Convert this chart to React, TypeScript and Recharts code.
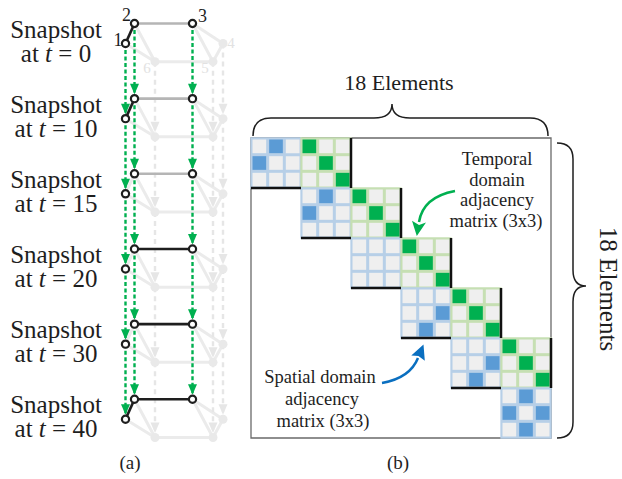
import React from "react";
import { ComposedChart, Line, Scatter, XAxis, YAxis, ReferenceArea, ReferenceLine } from "recharts";

// snapshots of the road graph
const SNAPSHOT_TIMES = [0, 10, 15, 20, 30, 40];
// spatial links between tracked nodes at each snapshot (1 = connected)
const EDGE_1_2 = [1, 1, 0, 0, 0, 1];
const EDGE_2_3 = [0, 0, 0, 1, 1, 1];

// graph layout: x in chart units, dy = vertical offset inside a snapshot
const NODE_IDS = [1, 2, 3, 4, 5, 6];
const NODE_X = [25.5, 34.5, 92.5, 123, 113, 55];
const NODE_DY = [0.266, 0, 0, 0.266, 0.508, 0.508];
const TRACKED_NODES = [1, 2, 3];
const FADED_NODES = [4, 5, 6];
const BACKGROUND_EDGES: [number, number][] = [[1, 2], [1, 6], [2, 6], [6, 5], [3, 5], [3, 4], [4, 5]];

const NODES_PER_SNAPSHOT = 3;
const MATRIX_SIZE = SNAPSHOT_TIMES.length * NODES_PER_SNAPSHOT; // 18

const FONT = "'Liberation Serif', 'Times New Roman', serif";
const GREEN = "#00b050";
const BLUE = "#5b9bd5";
const FADED = "#ebebeb";
const INK = "#1e1e1e";

const LABEL_OFFSET: Record<number, [number, number]> = {
  1: [-7.5, 3], 2: [-8, -2.5], 3: [10, -1.5], 4: [8, 4.5], 5: [-8, 11], 6: [-8, 11],
};

const nodePos = (id: number, snap: number) => ({
  x: NODE_X[id - 1],
  y: snap + NODE_DY[id - 1],
  id,
  snap,
});

type Seg = { key: string; a: { x: number; y: number }; b: { x: number; y: number }; stroke: string; width: number; dash?: string };

function buildSegments() {
  const faded: Seg[] = [];
  const offEdges: Seg[] = [];
  const onEdges: Seg[] = [];
  const fadedArrows: Seg[] = [];
  const greenArrows: Seg[] = [];
  SNAPSHOT_TIMES.forEach((_, s) => {
    BACKGROUND_EDGES.forEach(([u, v]) => {
      faded.push({ key: `bg-${s}-${u}-${v}`, a: nodePos(u, s), b: nodePos(v, s), stroke: FADED, width: 3 });
    });
    if (EDGE_1_2[s]) onEdges.push({ key: `e12-${s}`, a: nodePos(1, s), b: nodePos(2, s), stroke: INK, width: 2.6 });
    if (EDGE_2_3[s]) onEdges.push({ key: `e23-${s}`, a: nodePos(2, s), b: nodePos(3, s), stroke: INK, width: 2.6 });
    else offEdges.push({ key: `o23-${s}`, a: nodePos(2, s), b: nodePos(3, s), stroke: "#b5b5b5", width: 2.6 });
    if (s < SNAPSHOT_TIMES.length - 1) {
      FADED_NODES.forEach((id) =>
        fadedArrows.push({ key: `fa-${s}-${id}`, a: nodePos(id, s), b: nodePos(id, s + 1), stroke: "#e6e6e6", width: 2.4, dash: "5 4" })
      );
      TRACKED_NODES.forEach((id) =>
        greenArrows.push({ key: `ga-${s}-${id}`, a: nodePos(id, s), b: nodePos(id, s + 1), stroke: GREEN, width: 2.4, dash: "4 2.5" })
      );
    }
  });
  return { faded, offEdges, onEdges, fadedArrows, greenArrows };
}

const renderSeg = (g: Seg) => (
  <Line
    key={g.key}
    data={[g.a, g.b]}
    dataKey="y"
    type="linear"
    stroke={g.stroke}
    strokeWidth={g.width}
    strokeDasharray={g.dash}
    dot={false}
    activeDot={false}
    legendType="none"
    isAnimationActive={false}
  />
);

const arrowHead = (fill: string) => (p: any) => {
  const { cx, cy } = p;
  return <polygon points={`${cx - 4.5},${cy - 15} ${cx + 4.5},${cy - 15} ${cx},${cy - 4.5}`} fill={fill} />;
};

function GraphPanel() {
  const { faded, offEdges, onEdges, fadedArrows, greenArrows } = buildSegments();
  const later = SNAPSHOT_TIMES.slice(1).map((_, i) => i + 1);
  const fadedHeads = later.flatMap((s) => FADED_NODES.map((id) => nodePos(id, s)));
  const greenHeads = later.flatMap((s) => TRACKED_NODES.map((id) => nodePos(id, s)));
  const fadedNodes = SNAPSHOT_TIMES.flatMap((_, s) => FADED_NODES.map((id) => nodePos(id, s)));
  const trackedNodes = SNAPSHOT_TIMES.flatMap((_, s) => TRACKED_NODES.map((id) => nodePos(id, s)));
  const labels = NODE_IDS.map((id) => nodePos(id, 0));
  const top = -23.5 / 75.16;
  const bottom = (479 - 23.5) / 75.16;

  return (
    <ComposedChart width={140} height={479} margin={{ top: 0, right: 0, bottom: 0, left: 0 }}>
      <XAxis type="number" dataKey="x" domain={[0, 140]} hide allowDataOverflow />
      <YAxis type="number" dataKey="y" domain={[top, bottom]} reversed hide allowDataOverflow />
      {faded.map(renderSeg)}
      {fadedArrows.map(renderSeg)}
      <Scatter data={fadedHeads} shape={arrowHead("#e6e6e6")} isAnimationActive={false} />
      <Scatter
        data={fadedNodes}
        shape={(p: any) => <circle cx={p.cx} cy={p.cy} r={4.5} fill="#e9e9e9" />}
        isAnimationActive={false}
      />
      {offEdges.map(renderSeg)}
      {greenArrows.map(renderSeg)}
      <Scatter data={greenHeads} shape={arrowHead(GREEN)} isAnimationActive={false} />
      {onEdges.map(renderSeg)}
      <Scatter
        data={trackedNodes}
        shape={(p: any) => <circle cx={p.cx} cy={p.cy} r={3.6} fill="#fff" stroke={INK} strokeWidth={2.2} />}
        isAnimationActive={false}
      />
      <Scatter
        data={labels}
        shape={(p: any) => {
          const id = p.payload.id;
          const [dx, dy] = LABEL_OFFSET[id];
          const tracked = TRACKED_NODES.includes(id);
          return (
            <text
              x={p.cx + dx}
              y={p.cy + dy}
              textAnchor="middle"
              style={{ fontFamily: FONT, fontSize: tracked ? 18 : 15 }}
              fill={tracked ? INK : "#e2e2e2"}
            >
              {id}
            </text>
          );
        }}
        isAnimationActive={false}
      />
    </ComposedChart>
  );
}

type Cell = { row: number; col: number; on: boolean; kind: "spatial" | "temporal" };

function spatialBlock(s: number): number[][] {
  const a = EDGE_1_2[s];
  const b = EDGE_2_3[s];
  return [
    [0, a, 0],
    [a, 0, b],
    [0, b, 0],
  ];
}

function buildBlocks() {
  const blocks: { r: number; c: number; kind: "spatial" | "temporal" }[] = [];
  const cells: Cell[] = [];
  SNAPSHOT_TIMES.forEach((_, s) => {
    const adj = spatialBlock(s);
    blocks.push({ r: s, c: s, kind: "spatial" });
    for (let i = 0; i < 3; i++)
      for (let j = 0; j < 3; j++)
        cells.push({ row: s * 3 + i, col: s * 3 + j, on: adj[i][j] === 1, kind: "spatial" });
    if (s < SNAPSHOT_TIMES.length - 1) {
      blocks.push({ r: s, c: s + 1, kind: "temporal" });
      for (let i = 0; i < 3; i++)
        for (let j = 0; j < 3; j++)
          cells.push({ row: s * 3 + i, col: (s + 1) * 3 + j, on: i === j, kind: "temporal" });
    }
  });
  return { blocks, cells };
}

function MatrixPanel() {
  const { blocks, cells } = buildBlocks();
  const gap = 0.09;
  const edge = 0.04;
  const n = SNAPSHOT_TIMES.length;
  return (
    <ComposedChart width={320} height={320} margin={{ top: 10, right: 10, bottom: 10, left: 10 }} data={cells}>
      <XAxis type="number" dataKey="col" domain={[0, MATRIX_SIZE]} hide />
      <YAxis type="number" dataKey="row" domain={[0, MATRIX_SIZE]} reversed hide />
      <ReferenceArea x1={0} x2={MATRIX_SIZE} y1={0} y2={MATRIX_SIZE} fill="#fff" fillOpacity={1} stroke="#6a6a6a" strokeWidth={1.3} />
      {blocks.map((b) => (
        <ReferenceArea
          key={`blk-${b.r}-${b.c}`}
          x1={b.c * 3 - edge}
          x2={b.c * 3 + 3 + edge}
          y1={b.r * 3 - edge}
          y2={b.r * 3 + 3 + edge}
          fill={b.kind === "spatial" ? "#b7cfe7" : "#c6dfb3"}
          fillOpacity={1}
          ifOverflow="visible"
        />
      ))}
      {cells.map((c) => (
        <ReferenceArea
          key={`cell-${c.row}-${c.col}`}
          x1={c.col + gap}
          x2={c.col + 1 - gap}
          y1={c.row + gap}
          y2={c.row + 1 - gap}
          fill={c.on ? (c.kind === "spatial" ? BLUE : GREEN) : "#efefef"}
          fillOpacity={1}
          ifOverflow="visible"
        />
      ))}
      {Array.from({ length: n - 1 }, (_, s) => (
        <ReferenceLine
          key={`sb-${s}`}
          segment={[{ x: s * 3, y: s * 3 + 3 }, { x: s * 3 + 3, y: s * 3 + 3 }]}
          stroke="#111"
          strokeWidth={2.5}
          ifOverflow="visible"
        />
      ))}
      {Array.from({ length: n - 1 }, (_, s) => (
        <ReferenceLine
          key={`sr-${s}`}
          segment={[{ x: s * 3 + 6, y: s * 3 }, { x: s * 3 + 6, y: s * 3 + 3 }]}
          stroke="#111"
          strokeWidth={2.5}
          ifOverflow="visible"
        />
      ))}
    </ComposedChart>
  );
}

function Annotations() {
  const textProps = { fontFamily: FONT, fill: INK, textAnchor: "middle" as const };
  return (
    <svg width={622} height={479} style={{ position: "absolute", left: 0, top: 0, pointerEvents: "none" }}>
      {SNAPSHOT_TIMES.map((t, s) => {
        const y = 23.5 + 75.16 * s;
        return (
          <g key={t}>
            <text {...textProps} x={56} y={y + 14} fontSize={25}>Snapshot</text>
            <text {...textProps} x={56} y={y + 38} fontSize={25}>
              at <tspan fontStyle="italic">t</tspan> = {t}
            </text>
          </g>
        );
      })}
      <text {...textProps} x={130} y={469} fontSize={19}>(a)</text>
      <text {...textProps} x={398} y={469} fontSize={19}>(b)</text>

      {/* top brace */}
      <text {...textProps} x={399} y={90} fontSize={22}>18 Elements</text>
      <path
        d="M253,136 Q253,118 271,118 L374,118 Q392,118 392,104 Q392,118 410,118 L530,118 Q548,118 548,136"
        fill="none"
        stroke={INK}
        strokeWidth={1.5}
      />
      {/* side brace */}
      <path
        d="M557,143 Q573,143 573,159 L573,270 Q573,286 586,286 Q573,286 573,302 L573,422 Q573,438 557,438"
        fill="none"
        stroke={INK}
        strokeWidth={1.5}
      />
      <text {...textProps} x={0} y={0} fontSize={25} transform="translate(600,289) rotate(90)">18 Elements</text>

      {/* temporal block callout */}
      <text {...textProps} x={497} y={165} fontSize={18.5}>Temporal</text>
      <text {...textProps} x={497} y={185.5} fontSize={18.5}>domain</text>
      <text {...textProps} x={497} y={206} fontSize={18.5}>adjacency</text>
      <text {...textProps} x={496} y={227} fontSize={18.5}>matrix (3x3)</text>
      <path d="M455,191 Q423,197 419,222" fill="none" stroke={GREEN} strokeWidth={2.5} />
      <polygon points="416.8,236 426,222.5 419,225 412,220.8" fill={GREEN} />

      {/* spatial block callout */}
      <text {...textProps} x={320} y={383} fontSize={18.5}>Spatial domain</text>
      <text {...textProps} x={322} y={405} fontSize={18.5}>adjacency</text>
      <text {...textProps} x={323} y={427} fontSize={18.5}>matrix (3x3)</text>
      <path d="M382,383 Q410,378 418,358" fill="none" stroke="#0a6fc0" strokeWidth={2.5} />
      <polygon points="423.5,344.5 424.8,360.8 418.5,356 411.3,355.5" fill="#0a6fc0" />
    </svg>
  );
}

export default function App() {
  return (
    <div style={{ position: "absolute", left: 0, top: 0, width: 622, height: 479, background: "#fff", fontFamily: FONT }}>
      <div style={{ position: "absolute", left: 100, top: 0 }}>
        <GraphPanel />
      </div>
      <div style={{ position: "absolute", left: 241, top: 128 }}>
        <MatrixPanel />
      </div>
      <Annotations />
    </div>
  );
}
